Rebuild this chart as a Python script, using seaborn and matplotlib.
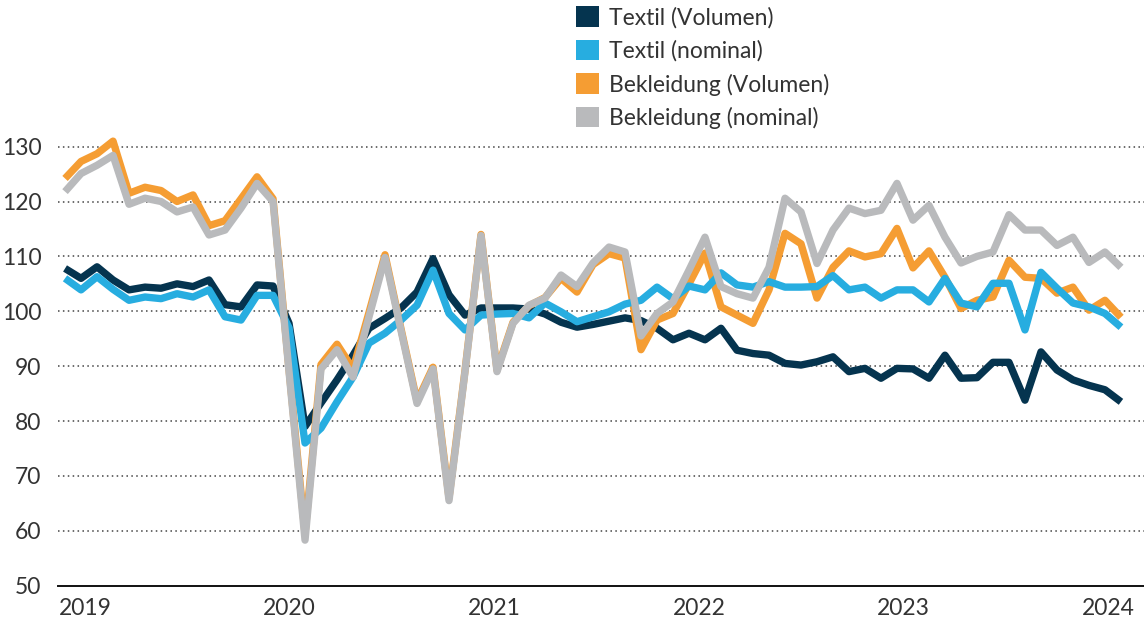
import matplotlib
matplotlib.use("Agg")
import matplotlib.pyplot as plt
from matplotlib.patches import Patch
import seaborn as sns
import pandas as pd
import numpy as np

# monthly index values, Jan 2019 onwards
textil_volumen = [107.8, 106.0, 108.1, 105.7, 103.9, 104.4, 104.2, 105.0, 104.5, 105.7,
                  101.2, 100.8, 104.8, 104.6, 97.8, 79.0, 83.3, 87.5, 92.0, 96.9,
                  98.7, 100.6, 103.5, 109.6, 103.0, 99.3, 100.6, 100.6, 100.6, 100.4,
                  99.5, 98.0, 97.1, 97.6, 98.2, 98.8, 98.3, 96.9, 94.8, 96.0,
                  94.8, 96.9, 92.9, 92.3, 92.0, 90.5, 90.2, 90.8, 91.7, 89.0,
                  89.6, 87.8, 89.6, 89.5, 87.8, 92.0, 87.8, 87.9, 90.7, 90.7,
                  83.8, 92.6, 89.3, 87.5, 86.5, 85.7, 83.5]
textil_nominal = [106.0, 103.9, 106.3, 104.0, 102.0, 102.6, 102.3, 103.2, 102.6, 103.9,
                  99.0, 98.4, 102.9, 102.9, 97.0, 76.0, 78.7, 83.5, 88.0, 94.2,
                  96.0, 98.4, 101.1, 107.5, 99.6, 96.6, 99.3, 99.5, 99.6, 98.8,
                  101.5, 99.9, 98.1, 99.0, 99.9, 101.3, 102.0, 104.4, 102.3, 104.6,
                  103.9, 107.0, 104.8, 104.4, 105.4, 104.4, 104.4, 104.5, 106.5, 103.9,
                  104.4, 102.4, 103.9, 103.9, 101.7, 106.0, 101.5, 100.8, 105.1, 105.1,
                  96.6, 107.1, 104.2, 101.5, 100.8, 99.6, 97.1]
bekleidung_volumen = [124.2, 127.3, 128.7, 131.0, 121.5, 122.6, 122.0, 120.0, 121.2, 115.6,
                      116.5, 120.5, 124.5, 120.5, 89.4, 59.5, 90.3, 94.0, 89.5, 99.8,
                      110.3, 96.8, 83.6, 89.8, 66.0, 89.2, 114.0, 89.3, 98.0, 101.0,
                      102.5, 106.0, 103.5, 108.5, 110.5, 109.7, 93.0, 98.4, 99.6, 105.0,
                      110.6, 100.8, 99.3, 97.8, 103.9, 114.2, 112.3, 102.4, 108.0, 111.0,
                      109.9, 110.5, 115.1, 107.9, 111.0, 106.2, 100.5, 102.0, 102.6, 109.3,
                      106.2, 106.0, 103.3, 104.4, 100.2, 102.0, 98.9]
bekleidung_nominal = [121.8, 125.1, 126.6, 128.4, 119.5, 120.6, 120.0, 118.1, 119.0, 113.9,
                      114.8, 118.8, 123.3, 120.0, 89.0, 58.3, 89.5, 93.0, 88.0, 99.0,
                      109.8, 96.5, 83.2, 89.5, 65.5, 89.0, 113.8, 89.0, 97.8, 101.1,
                      102.4, 106.6, 104.5, 108.8, 111.7, 110.8, 95.5, 99.6, 101.7, 107.5,
                      113.5, 104.5, 103.2, 102.4, 108.0, 120.6, 118.1, 108.7, 114.8, 118.8,
                      117.8, 118.4, 123.3, 116.6, 119.3, 113.5, 108.8, 110.0, 110.8, 117.6,
                      114.8, 114.8, 112.0, 113.5, 108.9, 110.8, 108.0]

series_names = ["Textil (Volumen)", "Textil (nominal)", "Bekleidung (Volumen)", "Bekleidung (nominal)"]
colors = ["#05344f", "#27ade0", "#f59d33", "#b9babc"]
year_labels = ["2019", "2020", "2021", "2022", "2023", "2024"]
y_ticks = [50, 60, 70, 80, 90, 100, 110, 120, 130]

sns.set_style("white")
plt.rcParams['font.family'] = ['Lato', 'DejaVu Sans']
text_color = "#333333"

months = np.arange(len(textil_volumen))
df = pd.DataFrame({
    "month": np.tile(months, 4),
    "value": textil_volumen + textil_nominal + bekleidung_volumen + bekleidung_nominal,
    "series": np.repeat(series_names, len(months)),
})

fig = plt.figure(figsize=(11.44, 6.23), dpi=100)
ax = fig.add_axes([58 / 1144, 37.3 / 623, 1 - 58 / 1144, 455 / 623])

# draw order: navy, orange, cyan, gray on top
for name in [series_names[0], series_names[2], series_names[1], series_names[3]]:
    sub = df[df["series"] == name]
    sns.lineplot(data=sub, x="month", y="value", ax=ax, color=colors[series_names.index(name)],
                 lw=5.3, solid_joinstyle="round", solid_capstyle="butt", legend=False)

ax.set_xlim(-0.44, 67.44)
ax.set_ylim(50, 132.9)
ax.set_yticks(y_ticks)
ax.set_yticklabels([str(t) for t in y_ticks], fontsize=16.5, color=text_color)
ax.set_xticks(np.linspace(1.25, 65.2, 6))
ax.set_xticklabels(year_labels, fontsize=16.5, color=text_color)
ax.tick_params(axis="both", length=0)
ax.tick_params(axis="y", pad=12)
ax.tick_params(axis="x", pad=9)
ax.set_xlabel("")
ax.set_ylabel("")

for t in y_ticks[1:]:
    ax.axhline(t, color="#444444", lw=1.1, ls=(0, (1, 2.2)), zorder=0)

for s in ["top", "right", "left"]:
    ax.spines[s].set_visible(False)
ax.spines["bottom"].set_color("#111111")
ax.spines["bottom"].set_linewidth(1.4)
for line in ax.lines:
    line.set_clip_on(False)

handles = [Patch(facecolor=c, edgecolor="none") for c in colors]
fig.legend(handles, series_names, loc="upper left", bbox_to_anchor=(562 / 1144, 1.012),
           frameon=False, fontsize=16.5, handlelength=1.0, handleheight=1.0,
           handletextpad=0.45, labelspacing=0.5, borderpad=0.1, labelcolor=text_color)

fig.savefig("out.png", dpi=100, facecolor="white")
